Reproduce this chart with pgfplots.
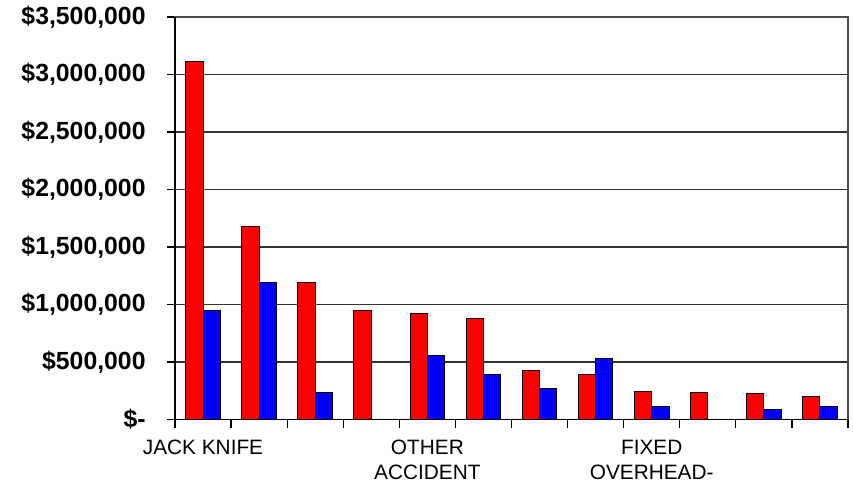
\documentclass[border=0pt]{standalone}
\usepackage{pgfplots}
\pgfplotsset{compat=1.18}
\usepackage{fontspec}
\setmainfont{Liberation Sans}
\begin{document}
\begin{tikzpicture}
\useasboundingbox (-87.5pt,-32.25pt) rectangle (339pt,209.75pt);
\begin{axis}[
  anchor=south west,
  at={(0pt,0pt)},
  scale only axis,
  width=336.5pt, height=201.25pt,
  xmin=0.5, xmax=12.5,
  ymin=0, ymax=3500000,
  ybar=0pt,
  bar width=8.65pt,
  axis line style={draw=black!70, line width=0.6pt},
  ymajorgrids,
  grid style={draw=black!80, line width=0.6pt},
  tick align=outside,
  major tick length=4pt,
  tick style={draw=black, line width=0.6pt},
  xtick={0.5,1.5,...,12.5},
  xticklabels={},
  extra x ticks={1,5,9},
  extra x tick labels={JACK KNIFE, OTHER\\ACCIDENT, FIXED\\OVERHEAD-},
  extra x tick style={major tick length=0pt, grid=none,
    xticklabel style={font=\fontsize{10.4}{12.5}\selectfont, align=center, anchor=north, inner sep=0pt, yshift=-10pt}},
  ytick={0,500000,1000000,1500000,2000000,2500000,3000000,3500000},
  yticklabels={{\$-}, {\$500,000}, {\$1,000,000}, {\$1,500,000}, {\$2,000,000}, {\$2,500,000}, {\$3,000,000}, {\$3,500,000}},
  yticklabel style={font=\fontsize{12.4}{14}\selectfont\bfseries, anchor=east, inner sep=0pt, xshift=-10.5pt},
  scaled y ticks=false,
  xtick pos=bottom,
  ytick pos=left,
  clip=false,
]
\addplot[fill=red, draw=black, line width=0.5pt] coordinates {
(1,3117000) (2,1680000) (3,1193000) (4,952000) (5,920000) (6,876000)
(7,429000) (8,389000) (9,247000) (10,235000) (11,223000) (12,200000)};
\addplot[fill=blue, draw=black, line width=0.5pt] coordinates {
(1,952000) (2,1193000) (3,235000) (4,0) (5,560000) (6,389000)
(7,270000) (8,528000) (9,116000) (10,0) (11,84000) (12,116000)};
\draw[black, line width=0.8pt] (rel axis cs:0,1) -- (rel axis cs:0,0) -- (rel axis cs:1,0);
\end{axis}
\end{tikzpicture}
\end{document}
